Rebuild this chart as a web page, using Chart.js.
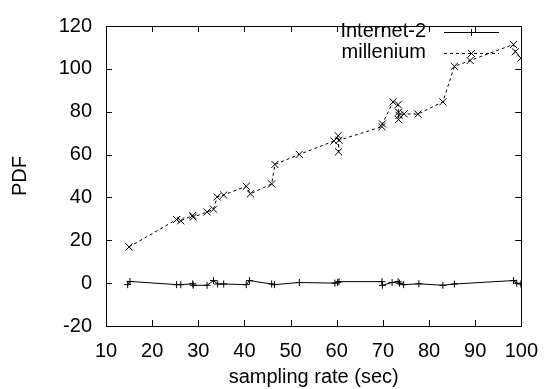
<!DOCTYPE html>
<html>
<head>
<meta charset="utf-8">
<script src="https://cdn.jsdelivr.net/npm/chart.js@4.4.1/dist/chart.umd.min.js"></script>
<style>
  html, body { margin: 0; padding: 0; background: #fff; }
  #wrap { width: 551px; height: 389px; position: relative; }
</style>
</head>
<body>
<div id="wrap"><canvas id="c" width="551" height="389"></canvas></div>
<script>
// ---- data ----
const seriesNames = ["Internet-2", "millenium"];
const xTicks = [10, 20, 30, 40, 50, 60, 70, 80, 90, 100];
const yTicks = [-20, 0, 20, 40, 60, 80, 100, 120];

const internet2X = [14.7, 15.2, 25.3, 26.2, 28.8, 28.9, 31.9, 33.3, 34.2, 35.5, 40.4, 41.1, 45.9, 46.5, 51.9, 59.6, 60.2, 60.5, 69.8, 69.9, 72.0, 73.3, 73.6, 74.5, 77.8, 83.0, 85.5, 98.3, 99.0, 99.9];
const internet2Y = [-0.7, 0.8, -0.7, -0.7, -0.3, -1.0, -1.0, 1.2, -0.4, -0.4, -0.7, 1.2, -0.4, -0.7, 0.3, 0.0, 0.3, 0.7, 0.7, -1.0, 0.3, 0.7, 0.0, -0.7, -0.3, -1.0, -0.4, 1.2, 0.0, -0.4];

const milleniumX = [15.0, 25.3, 26.2, 28.8, 28.9, 31.9, 33.3, 34.1, 35.5, 40.4, 41.3, 45.9, 46.6, 51.9, 59.4, 60.3, 60.4, 60.5, 69.8, 69.9, 72.2, 73.3, 73.4, 73.4, 73.5, 74.6, 77.6, 83.0, 85.5, 88.9, 98.3, 98.7, 99.9];
const milleniumY = [16.9, 29.7, 29.1, 31.6, 30.8, 33.2, 34.5, 40.2, 41.1, 45.2, 41.7, 46.3, 55.4, 60.1, 66.3, 68.8, 61.3, 66.7, 73.0, 74.3, 84.6, 83.3, 76.3, 79.8, 78.3, 79.0, 78.9, 84.6, 101.2, 103.9, 111.4, 108.0, 105.0];

const FONT = "'Liberation Sans', Arial, Helvetica, sans-serif";
const FS = 20;

function pts(xs, ys) { return xs.map((x, i) => ({ x: x, y: ys[i] })); }

// gnuplot-like frame, inward ticks on all four sides, and key
const framePlugin = {
  id: 'frame',
  afterDatasetsDraw(chart) {
    const ctx = chart.ctx;
    const a = chart.chartArea;
    const xs = chart.scales.x, ys = chart.scales.y;
    const TL = 6;
    ctx.save();
    ctx.strokeStyle = '#000';
    ctx.lineWidth = 1;
    ctx.setLineDash([]);
    ctx.beginPath();
    ctx.rect(Math.round(a.left) + 0.5, Math.round(a.top) + 0.5,
             Math.round(a.right - a.left), Math.round(a.bottom - a.top));
    ctx.stroke();
    ctx.beginPath();
    xTicks.forEach(v => {
      const px = Math.round(xs.getPixelForValue(v)) + 0.5;
      ctx.moveTo(px, a.bottom); ctx.lineTo(px, a.bottom - TL);
      ctx.moveTo(px, a.top); ctx.lineTo(px, a.top + TL);
    });
    yTicks.forEach(v => {
      const py = Math.round(ys.getPixelForValue(v)) + 0.5;
      ctx.moveTo(a.left, py); ctx.lineTo(a.left + TL, py);
      ctx.moveTo(a.right, py); ctx.lineTo(a.right - TL, py);
    });
    ctx.stroke();

    // key (legend), gnuplot style: right-aligned text, then sample line
    const textRight = 426, lineL = 444, lineR = 499;
    const rows = [31.5, 52.5];
    ctx.font = FS + 'px ' + FONT;
    ctx.fillStyle = '#000';
    ctx.textAlign = 'right';
    ctx.textBaseline = 'middle';
    chart.data.datasets.forEach((ds, i) => {
      const y = rows[i];
      ctx.fillText(ds.label, textRight, y);
      ctx.strokeStyle = '#000';
      ctx.lineWidth = 1;
      ctx.setLineDash(ds.borderDash || []);
      ctx.beginPath();
      ctx.moveTo(lineL, Math.round(y) + 0.5);
      ctx.lineTo(lineR, Math.round(y) + 0.5);
      ctx.stroke();
      ctx.setLineDash([]);
      const cx = (lineL + lineR) / 2, cy = Math.round(y) + 0.5, r = 3.5;
      ctx.beginPath();
      if (ds.pointStyle === 'cross') {
        ctx.moveTo(cx - r, cy); ctx.lineTo(cx + r, cy);
        ctx.moveTo(cx, cy - r); ctx.lineTo(cx, cy + r);
      } else {
        ctx.moveTo(cx - r, cy - r); ctx.lineTo(cx + r, cy + r);
        ctx.moveTo(cx - r, cy + r); ctx.lineTo(cx + r, cy - r);
      }
      ctx.stroke();
    });
    ctx.restore();
  }
};

new Chart(document.getElementById('c'), {
  type: 'scatter',
  data: {
    datasets: [
      {
        label: seriesNames[0],
        data: pts(internet2X, internet2Y),
        showLine: true,
        borderColor: '#000',
        backgroundColor: '#000',
        borderWidth: 1,
        pointStyle: 'cross',
        pointRadius: 3.5,
        pointBorderWidth: 1,
        pointBorderColor: '#000',
        tension: 0
      },
      {
        label: seriesNames[1],
        data: pts(milleniumX, milleniumY),
        showLine: true,
        borderColor: '#000',
        backgroundColor: '#000',
        borderWidth: 1,
        borderDash: [3, 3],
        pointStyle: 'crossRot',
        pointRadius: 5,
        pointBorderWidth: 1,
        pointBorderColor: '#000',
        tension: 0
      }
    ]
  },
  options: {
    responsive: false,
    animation: false,
    events: [],
    layout: { padding: { left: 0, right: 28, top: 16, bottom: 0 } },
    plugins: { legend: { display: false }, tooltip: { enabled: false } },
    scales: {
      x: {
        type: 'linear',
        min: 10, max: 100,
        afterFit: s => { s.height = 63; },
        afterBuildTicks: s => { s.ticks = xTicks.map(v => ({ value: v })); },
        grid: { display: false, drawTicks: false },
        border: { display: false },
        ticks: { color: '#000', font: { family: FONT, size: FS }, padding: 13, maxRotation: 0, autoSkip: false },
        title: { display: true, text: 'sampling rate (sec)', color: '#000', font: { family: FONT, size: FS }, padding: { top: 4, bottom: 0 } }
      },
      y: {
        type: 'linear',
        min: -20, max: 120,
        afterFit: s => { s.width = 106; },
        afterBuildTicks: s => { s.ticks = yTicks.map(v => ({ value: v })); },
        grid: { display: false, drawTicks: false },
        border: { display: false },
        ticks: { color: '#000', font: { family: FONT, size: FS }, padding: 14, autoSkip: false },
        title: { display: true, text: 'PDF', color: '#000', font: { family: FONT, size: FS }, padding: { top: 8, bottom: 0 } }
      }
    }
  },
  plugins: [framePlugin]
});
</script>
</body>
</html>
